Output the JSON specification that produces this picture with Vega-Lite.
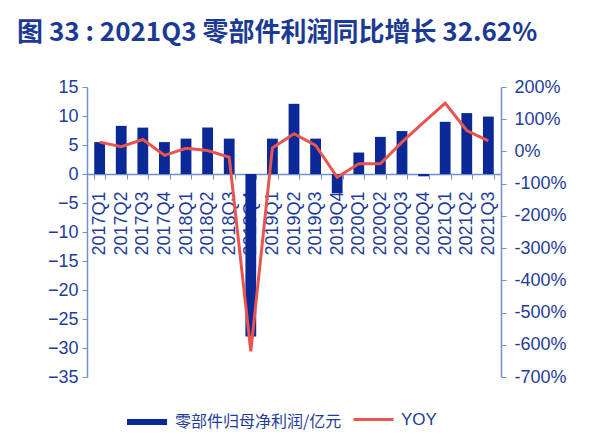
{
  "$schema": "https://vega.github.io/schema/vega-lite/v6.json",
  "width": 414,
  "height": 290,
  "autosize": {"type": "none"},
  "padding": {"left": 87, "top": 87, "right": 99, "bottom": 69},
  "background": "white",
  "title": {
    "text": "图 33 : 2021Q3 零部件利润同比增长 32.62%",
    "anchor": "start",
    "frame": "group",
    "dx": -70,
    "offset": 32,
    "fontSize": 26,
    "fontWeight": "bold",
    "color": "#1B3A94",
    "font": "Noto Sans CJK SC"
  },
  "config": {"view": {"stroke": null}, "font": "Liberation Sans"},
  "data": {
    "values": [
      {"q": "2017Q1", "profit": 5.5, "yoy": 29},
      {"q": "2017Q2", "profit": 8.3, "yoy": 15},
      {"q": "2017Q3", "profit": 8.0, "yoy": 37},
      {"q": "2017Q4", "profit": 5.5, "yoy": -12},
      {"q": "2018Q1", "profit": 6.1, "yoy": 10},
      {"q": "2018Q2", "profit": 8.0, "yoy": 3},
      {"q": "2018Q3", "profit": 6.1, "yoy": -18},
      {"q": "2018Q4", "profit": -28.0, "yoy": -620},
      {"q": "2019Q1", "profit": 6.1, "yoy": 11},
      {"q": "2019Q2", "profit": 12.1, "yoy": 55},
      {"q": "2019Q3", "profit": 6.1, "yoy": 19},
      {"q": "2019Q4", "profit": -3.3, "yoy": -80},
      {"q": "2020Q1", "profit": 3.7, "yoy": -38},
      {"q": "2020Q2", "profit": 6.4, "yoy": -38},
      {"q": "2020Q3", "profit": 7.4, "yoy": 29},
      {"q": "2020Q4", "profit": -0.4, "yoy": 90},
      {"q": "2021Q1", "profit": 9.0, "yoy": 150},
      {"q": "2021Q2", "profit": 10.5, "yoy": 65},
      {"q": "2021Q3", "profit": 9.9, "yoy": 32.62}
    ]
  },
  "layer": [
    {
      "mark": {"type": "bar", "color": "#0A2896"},
      "encoding": {
        "x": {
          "field": "q",
          "type": "ordinal",
          "sort": null,
          "scale": {"paddingInner": 0.5, "paddingOuter": 0.335},
          "axis": {
            "title": null,
            "labelAngle": -90,
            "labelAlign": "right",
            "labelBaseline": "middle",
            "offset": -203,
            "tickBand": "extent",
            "tickSize": 5,
            "labelPadding": 12,
            "labelFontSize": 18,
            "labelColor": "#1F3C99",
            "domainColor": "#6F8FD0",
            "tickColor": "#6F8FD0",
            "domainWidth": 1.5,
            "grid": false
          }
        },
        "y": {
          "field": "profit",
          "type": "quantitative",
          "scale": {"domain": [-35, 15], "nice": false, "zero": false},
          "axis": {
            "title": null,
            "values": [-35, -30, -25, -20, -15, -10, -5, 0, 5, 10, 15],
            "grid": false,
            "labelFontSize": 18,
            "labelColor": "#1F3C99",
            "domainColor": "#6F8FD0",
            "tickColor": "#6F8FD0",
            "domainWidth": 1.5,
            "tickSize": 5,
            "labelPadding": 4
          }
        },
        "color": {
          "datum": "零部件归母净利润/亿元",
          "scale": {"range": ["#0A2896"]},
          "legend": {
            "title": null,
            "orient": "none",
            "legendX": 50,
            "legendY": 325,
            "symbolType": "M-2,-0.3H2V0.3H-2Z",
            "symbolSize": 400,
            "symbolStrokeWidth": 0,
            "labelOffset": 18,
            "labelLimit": 0,
            "labelFontSize": 16,
            "labelColor": "#1F3C99",
            "labelFont": "Noto Sans CJK SC"
          }
        }
      }
    },
    {
      "mark": {"type": "line", "strokeWidth": 3},
      "encoding": {
        "x": {"field": "q", "type": "ordinal", "sort": null},
        "y": {
          "field": "yoy",
          "type": "quantitative",
          "scale": {"domain": [-700, 200], "nice": false, "zero": false},
          "axis": {
            "orient": "right",
            "title": null,
            "values": [-700, -600, -500, -400, -300, -200, -100, 0, 100, 200],
            "labelExpr": "datum.value + '%'",
            "grid": false,
            "labelFontSize": 18,
            "labelColor": "#1F3C99",
            "domainColor": "#6F8FD0",
            "tickColor": "#6F8FD0",
            "domainWidth": 1.5,
            "tickSize": 5,
            "labelPadding": 8
          }
        },
        "stroke": {
          "datum": "YOY",
          "scale": {"range": ["#E8554E"]},
          "legend": {
            "title": null,
            "orient": "none",
            "legendX": 265,
            "legendY": 311,
            "symbolType": "stroke",
            "symbolSize": 1600,
            "symbolStrokeWidth": 3,
            "labelOffset": 6,
            "labelFontSize": 17,
            "labelColor": "#1F3C99"
          }
        }
      }
    }
  ],
  "resolve": {"scale": {"y": "independent"}}
}
